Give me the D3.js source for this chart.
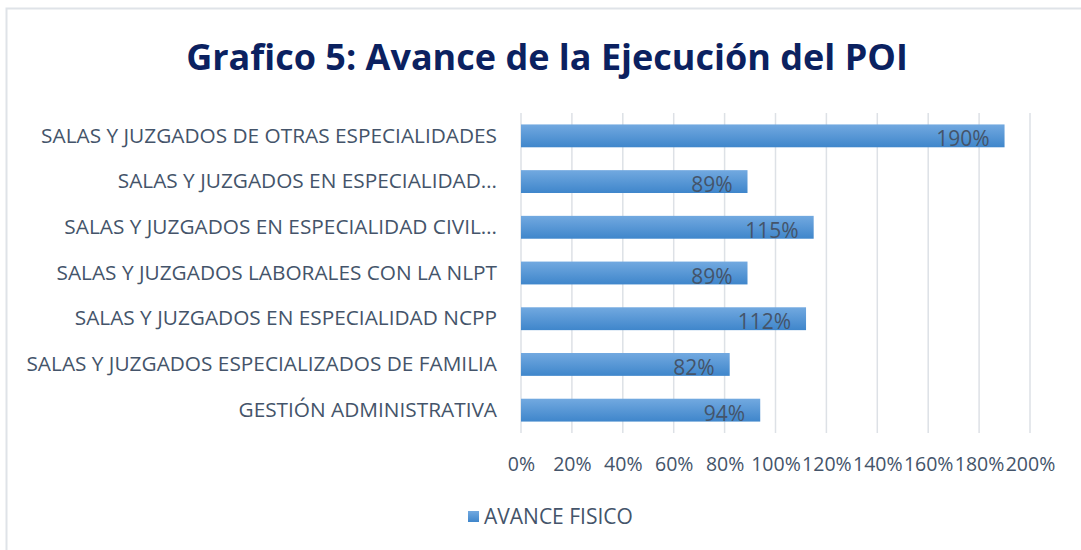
<!DOCTYPE html>
<html>
<head>
<meta charset="utf-8">
<script src="https://cdn.jsdelivr.net/npm/d3@7"></script>
<style>
  body { margin: 0; background: #fff; }
  svg { display: block; }
</style>
</head>
<body>
<svg id="chart" width="1081" height="550"></svg>
<script>
// categories, top to bottom as shown
var categories = [
  'SALAS Y JUZGADOS DE OTRAS ESPECIALIDADES',
  'SALAS Y JUZGADOS EN ESPECIALIDAD\u2026',
  'SALAS Y JUZGADOS EN ESPECIALIDAD CIVIL\u2026',
  'SALAS Y JUZGADOS LABORALES CON LA NLPT',
  'SALAS Y JUZGADOS EN ESPECIALIDAD NCPP',
  'SALAS Y JUZGADOS ESPECIALIZADOS DE FAMILIA',
  'GESTI\u00d3N ADMINISTRATIVA'
];
var avanceFisico = [1.90, 0.89, 1.15, 0.89, 1.12, 0.82, 0.94];
var xTicks = [0, 0.2, 0.4, 0.6, 0.8, 1.0, 1.2, 1.4, 1.6, 1.8, 2.0];
var seriesName = 'AVANCE FISICO';
var title = 'Grafico 5: Avance de la Ejecuci\u00f3n del POI';

var svg = d3.select('#chart');
var font = '"Open Sans", Lato, sans-serif';
var textColor = '#44546a';

// chart frame (only top and left edges visible)
svg.append('path')
    .attr('d', 'M6.5,550 L6.5,8.5 L1081,8.5')
    .attr('fill', 'none')
    .attr('stroke', '#dfe3e8')
    .attr('stroke-width', 2);

var defs = svg.append('defs');
var grad = defs.append('linearGradient')
    .attr('id', 'barGrad')
    .attr('x1', 0).attr('y1', 0).attr('x2', 0).attr('y2', 1);
grad.append('stop').attr('offset', '0%').attr('stop-color', '#72a9e0');
grad.append('stop').attr('offset', '100%').attr('stop-color', '#3f86cb');

var plot = { left: 521, right: 1030, top: 113, bottom: 433 };

var x = d3.scaleLinear()
    .domain([0, 2])
    .range([plot.left, plot.right]);

var y = d3.scaleBand()
    .domain(categories)
    .range([plot.top, plot.bottom])
    .paddingInner(0.5)
    .paddingOuter(0.25);

// title
svg.append('text')
    .attr('x', 547)
    .attr('y', 70)
    .attr('text-anchor', 'middle')
    .attr('font-family', font)
    .attr('font-weight', 'bold')
    .attr('font-size', 36)
    .attr('fill', '#0b2160')
    .text(title);

// vertical gridlines
svg.append('g')
    .selectAll('line')
    .data(xTicks)
    .join('line')
    .attr('x1', function(d) { return x(d); })
    .attr('x2', function(d) { return x(d); })
    .attr('y1', plot.top)
    .attr('y2', plot.bottom)
    .attr('stroke', '#dde1e6')
    .attr('stroke-width', 1.5);

// x axis labels
var xAxis = d3.axisBottom(x)
    .tickValues(xTicks)
    .tickFormat(d3.format('.0%'))
    .tickSize(0)
    .tickPadding(0);

var gx = svg.append('g')
    .attr('transform', 'translate(0,' + (plot.bottom + 38) + ')')
    .call(xAxis);
gx.select('.domain').remove();
gx.selectAll('text')
    .attr('dy', 0)
    .attr('font-family', font)
    .attr('font-size', 19.5)
    .attr('fill', textColor);

// y axis labels
var yAxis = d3.axisLeft(y).tickSize(0).tickPadding(0);
var gy = svg.append('g')
    .attr('transform', 'translate(' + (plot.left - 24) + ',0)')
    .call(yAxis);
gy.select('.domain').remove();
gy.selectAll('text')
    .attr('font-family', font)
    .attr('font-size', 20.8)
    .attr('fill', textColor);

// bars
var rows = categories.map(function(c, i) { return { cat: c, val: avanceFisico[i] }; });

svg.append('g')
    .selectAll('rect')
    .data(rows)
    .join('rect')
    .attr('x', x(0))
    .attr('y', function(d) { return y(d.cat); })
    .attr('width', function(d) { return x(d.val) - x(0); })
    .attr('height', y.bandwidth())
    .attr('fill', 'url(#barGrad)');

// data labels, inside end
svg.append('g')
    .selectAll('text')
    .data(rows)
    .join('text')
    .attr('x', function(d) { return x(d.val) - 15; })
    .attr('y', function(d) { return y(d.cat) + y.bandwidth() / 2; })
    .attr('dy', '0.5em')
    .attr('text-anchor', 'end')
    .attr('font-family', font)
    .attr('font-size', 21)
    .attr('fill', textColor)
    .text(function(d) { return d3.format('.0%')(d.val); });

// legend
var legend = svg.append('g').attr('transform', 'translate(468,511)');
legend.append('rect')
    .attr('width', 11)
    .attr('height', 11)
    .attr('fill', 'url(#barGrad)');
legend.append('text')
    .attr('x', 16)
    .attr('y', 5.5)
    .attr('dy', '0.36em')
    .attr('font-family', font)
    .attr('font-size', 21)
    .attr('fill', textColor)
    .text(seriesName);
</script>
</body>
</html>
